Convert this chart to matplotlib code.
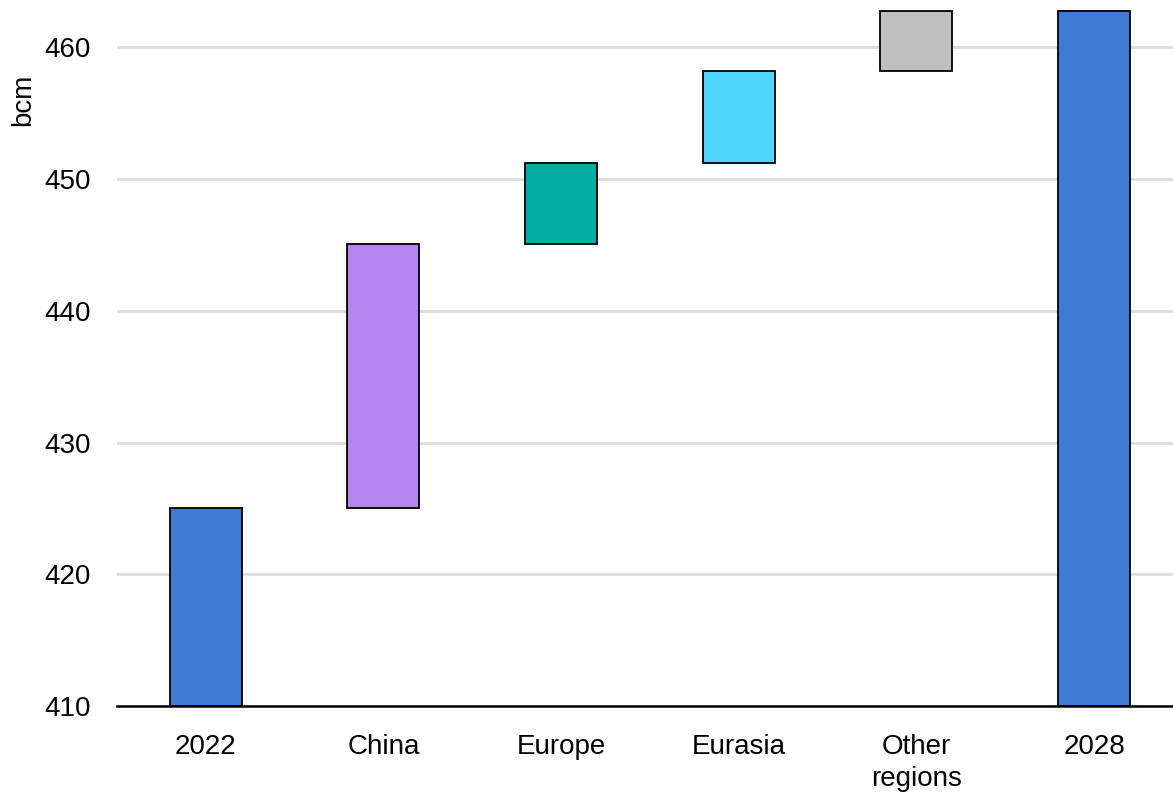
import matplotlib.pyplot as plt

plt.rcParams['font.family'] = ['Liberation Sans', 'DejaVu Sans']

# data
categories = ["2022", "China", "Europe", "Eurasia", "Other\nregions", "2028"]
start_value = 425.0
changes = [20.05, 6.15, 7.0, 4.55]
end_value = 462.75
colors = ["#3e79d3", "#b286ee", "#00ada0", "#4dd4ff", "#bfbfbf", "#3e79d3"]

# floating bars
bottoms = [410]
heights = [start_value - 410]
level = start_value
for c in changes:
    bottoms.append(level)
    heights.append(c)
    level += c
bottoms.append(410)
heights.append(end_value - 410)

fig = plt.figure(figsize=(11.73, 7.95), dpi=100)
ax = fig.add_axes([0.0997, 0.112, 0.9088, 0.888])

x = range(len(categories))
ax.bar(x, heights, bottom=bottoms, width=0.405, color=colors,
       edgecolor="black", linewidth=1.3, zorder=3)

ax.set_xlim(-0.5, 5.5)
ax.set_ylim(410, 463.6)
ax.set_yticks([410, 420, 430, 440, 450, 460])
ax.set_xticks(list(x))
ax.set_xticklabels(categories)
ax.tick_params(axis="both", length=0, labelsize=20)
ax.tick_params(axis="y", pad=19)
ax.tick_params(axis="x", pad=20)
for t in ax.get_xticklabels():
    t.set_linespacing(1.32)
ax.yaxis.grid(True, color="#dddddd", linewidth=2)
ax.set_axisbelow(True)

for s in ["top", "right", "left"]:
    ax.spines[s].set_visible(False)
ax.spines["bottom"].set_linewidth(1.8)
ax.spines["bottom"].set_zorder(4)

fig.text(23 / 1173, 1 - 100 / 795, "bcm", rotation=90, ha="center",
         va="center", fontsize=20)

fig.savefig("out.png", dpi=100)
